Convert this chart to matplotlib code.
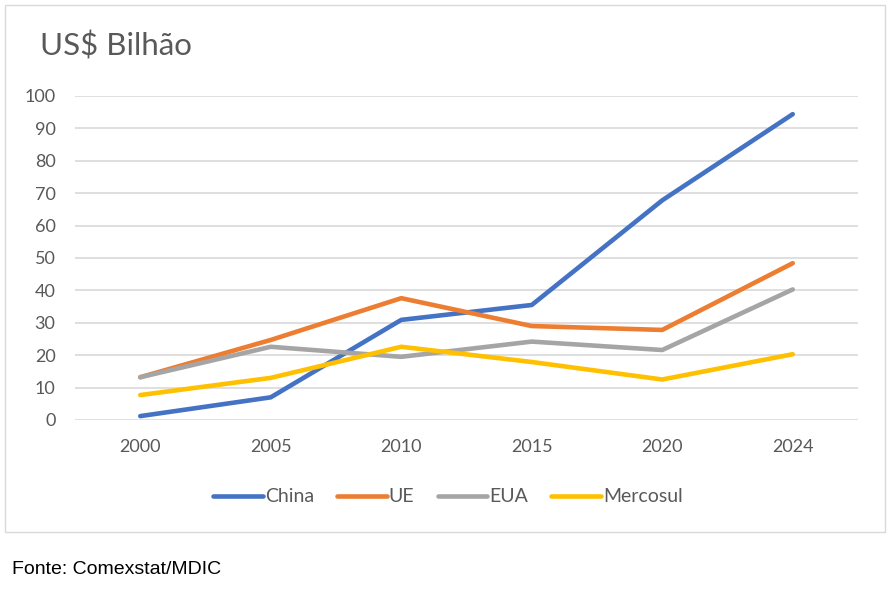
import matplotlib.pyplot as plt
from matplotlib.patches import Rectangle

# data (US$ bilhão)
anos = ["2000", "2005", "2010", "2015", "2020", "2024"]
china = [1.2, 7.0, 30.9, 35.5, 67.8, 94.4]
ue = [13.2, 24.7, 37.6, 29.0, 27.8, 48.4]
eua = [13.2, 22.6, 19.5, 24.2, 21.6, 40.3]
mercosul = [7.7, 13.0, 22.6, 17.9, 12.5, 20.3]

series = [
    ("China", china, "#4472C4"),
    ("UE", ue, "#ED7D31"),
    ("EUA", eua, "#A5A5A5"),
    ("Mercosul", mercosul, "#FFC000"),
]

plt.rcParams['font.family'] = ['Lato', 'DejaVu Sans']

fig = plt.figure(figsize=(8.9, 5.98), dpi=100)
fig.patch.set_facecolor("white")

# chart frame
fig.patches.append(Rectangle(
    (5 / 890, 1 - 532 / 598), 880 / 890, 527 / 598,
    transform=fig.transFigure, fill=False,
    edgecolor="#D9D9D9", linewidth=1.0
))

ax = fig.add_axes([75 / 890, 1 - 420 / 598, 783 / 890, 324 / 598])

x = range(len(anos))
for nome, valores, cor in series:
    ax.plot(x, valores, color=cor, linewidth=3.3, label=nome,
            solid_capstyle="round", solid_joinstyle="round", zorder=3)

ax.set_xlim(-0.5, len(anos) - 0.5)
ax.set_ylim(0, 100)
ax.set_yticks(range(0, 101, 10))
ax.set_xticks(list(x))
ax.set_xticklabels(anos)

ax.grid(axis="y", color="#D9D9D9", linewidth=1.2)
ax.set_axisbelow(True)
for s in ax.spines.values():
    s.set_visible(False)
ax.tick_params(axis="both", length=0, labelsize=13, labelcolor="#595959")
ax.tick_params(axis="x", pad=14)
ax.tick_params(axis="y", pad=14)

fig.text(40 / 890, 1 - 46 / 598, "US$ Bilhão", fontsize=22.5,
         color="#595959", va="center", ha="left")

ax.legend(loc="center", bbox_to_anchor=(448 / 890, 1 - 497 / 598),
          bbox_transform=fig.transFigure, ncol=4, frameon=False,
          fontsize=14, labelcolor="#595959", handlelength=2.55,
          handletextpad=0.1, columnspacing=1.2)

fig.text(12 / 890, 1 - 570 / 598, "Fonte: Comexstat/MDIC", fontsize=14,
         color="black", va="center", ha="left", family="Liberation Sans")

fig.savefig("out.png", dpi=100)
